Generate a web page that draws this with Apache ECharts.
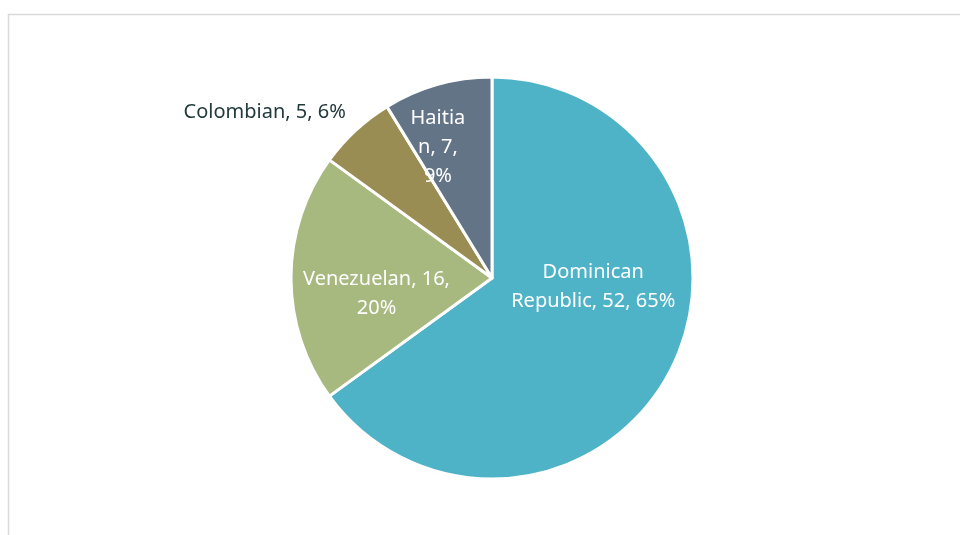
<!DOCTYPE html>
<html>
<head>
<meta charset="utf-8">
<script src="https://cdn.jsdelivr.net/npm/echarts@6/dist/echarts.min.js"></script>
<style>
  html, body { margin: 0; padding: 0; background: #fff; }
  #pie { width: 960px; height: 535px; }
</style>
</head>
<body>
<div id="pie"></div>
<script>
// data
var names = ['Dominican Republic', 'Venezuelan', 'Colombian', 'Haitian'];
var values = [52, 16, 5, 7];
var colors = ['#4FB3C8', '#A7B97F', '#9A8D53', '#637487'];
// how Excel wrapped each label
var labelText = [
    'Dominican\nRepublic, {c}, {d}%',
    'Venezuelan, {c},\n{d}%',
    'Colombian, {c}, {d}%',
    'Haitia\nn, {c},\n{d}%'
];
var labelColors = ['#fff', '#fff', '#233A3C', '#fff'];
// nudge from the slice middle to where the reference puts it
var labelShift = [[9, -38], [-12, 16], [-157, -90], [-26, -31]];

var pieChart = echarts.init(document.getElementById('pie'));

var pieData = names.map(function (n, i) {
    return {
        name: n,
        value: values[i],
        itemStyle: { color: colors[i] },
        label: { formatter: labelText[i], color: labelColors[i] }
    };
});

var pieOption = {
    animation: false,
    graphic: [{
        type: 'rect',
        shape: { x: 8.5, y: 14.5, width: 1000, height: 600 },
        style: { fill: 'none', stroke: '#D9D9D9', lineWidth: 1.5 },
        silent: true
    }],
    series: [{
        type: 'pie',
        center: [492, 278],
        radius: [0, 201],
        startAngle: 90,
        clockwise: true,
        percentPrecision: 0,
        data: pieData,
        itemStyle: { borderColor: '#fff', borderWidth: 3 },
        label: {
            position: 'inside',
            fontFamily: 'Noto Sans',
            fontSize: 20,
            lineHeight: 29,
            align: 'center'
        },
        labelLine: { show: false },
        labelLayout: function (p) {
            var s = labelShift[p.dataIndex];
            return { dx: s[0], dy: s[1] };
        },
        emphasis: { disabled: true }
    }]
};
pieChart.setOption(pieOption);
</script>
</body>
</html>
